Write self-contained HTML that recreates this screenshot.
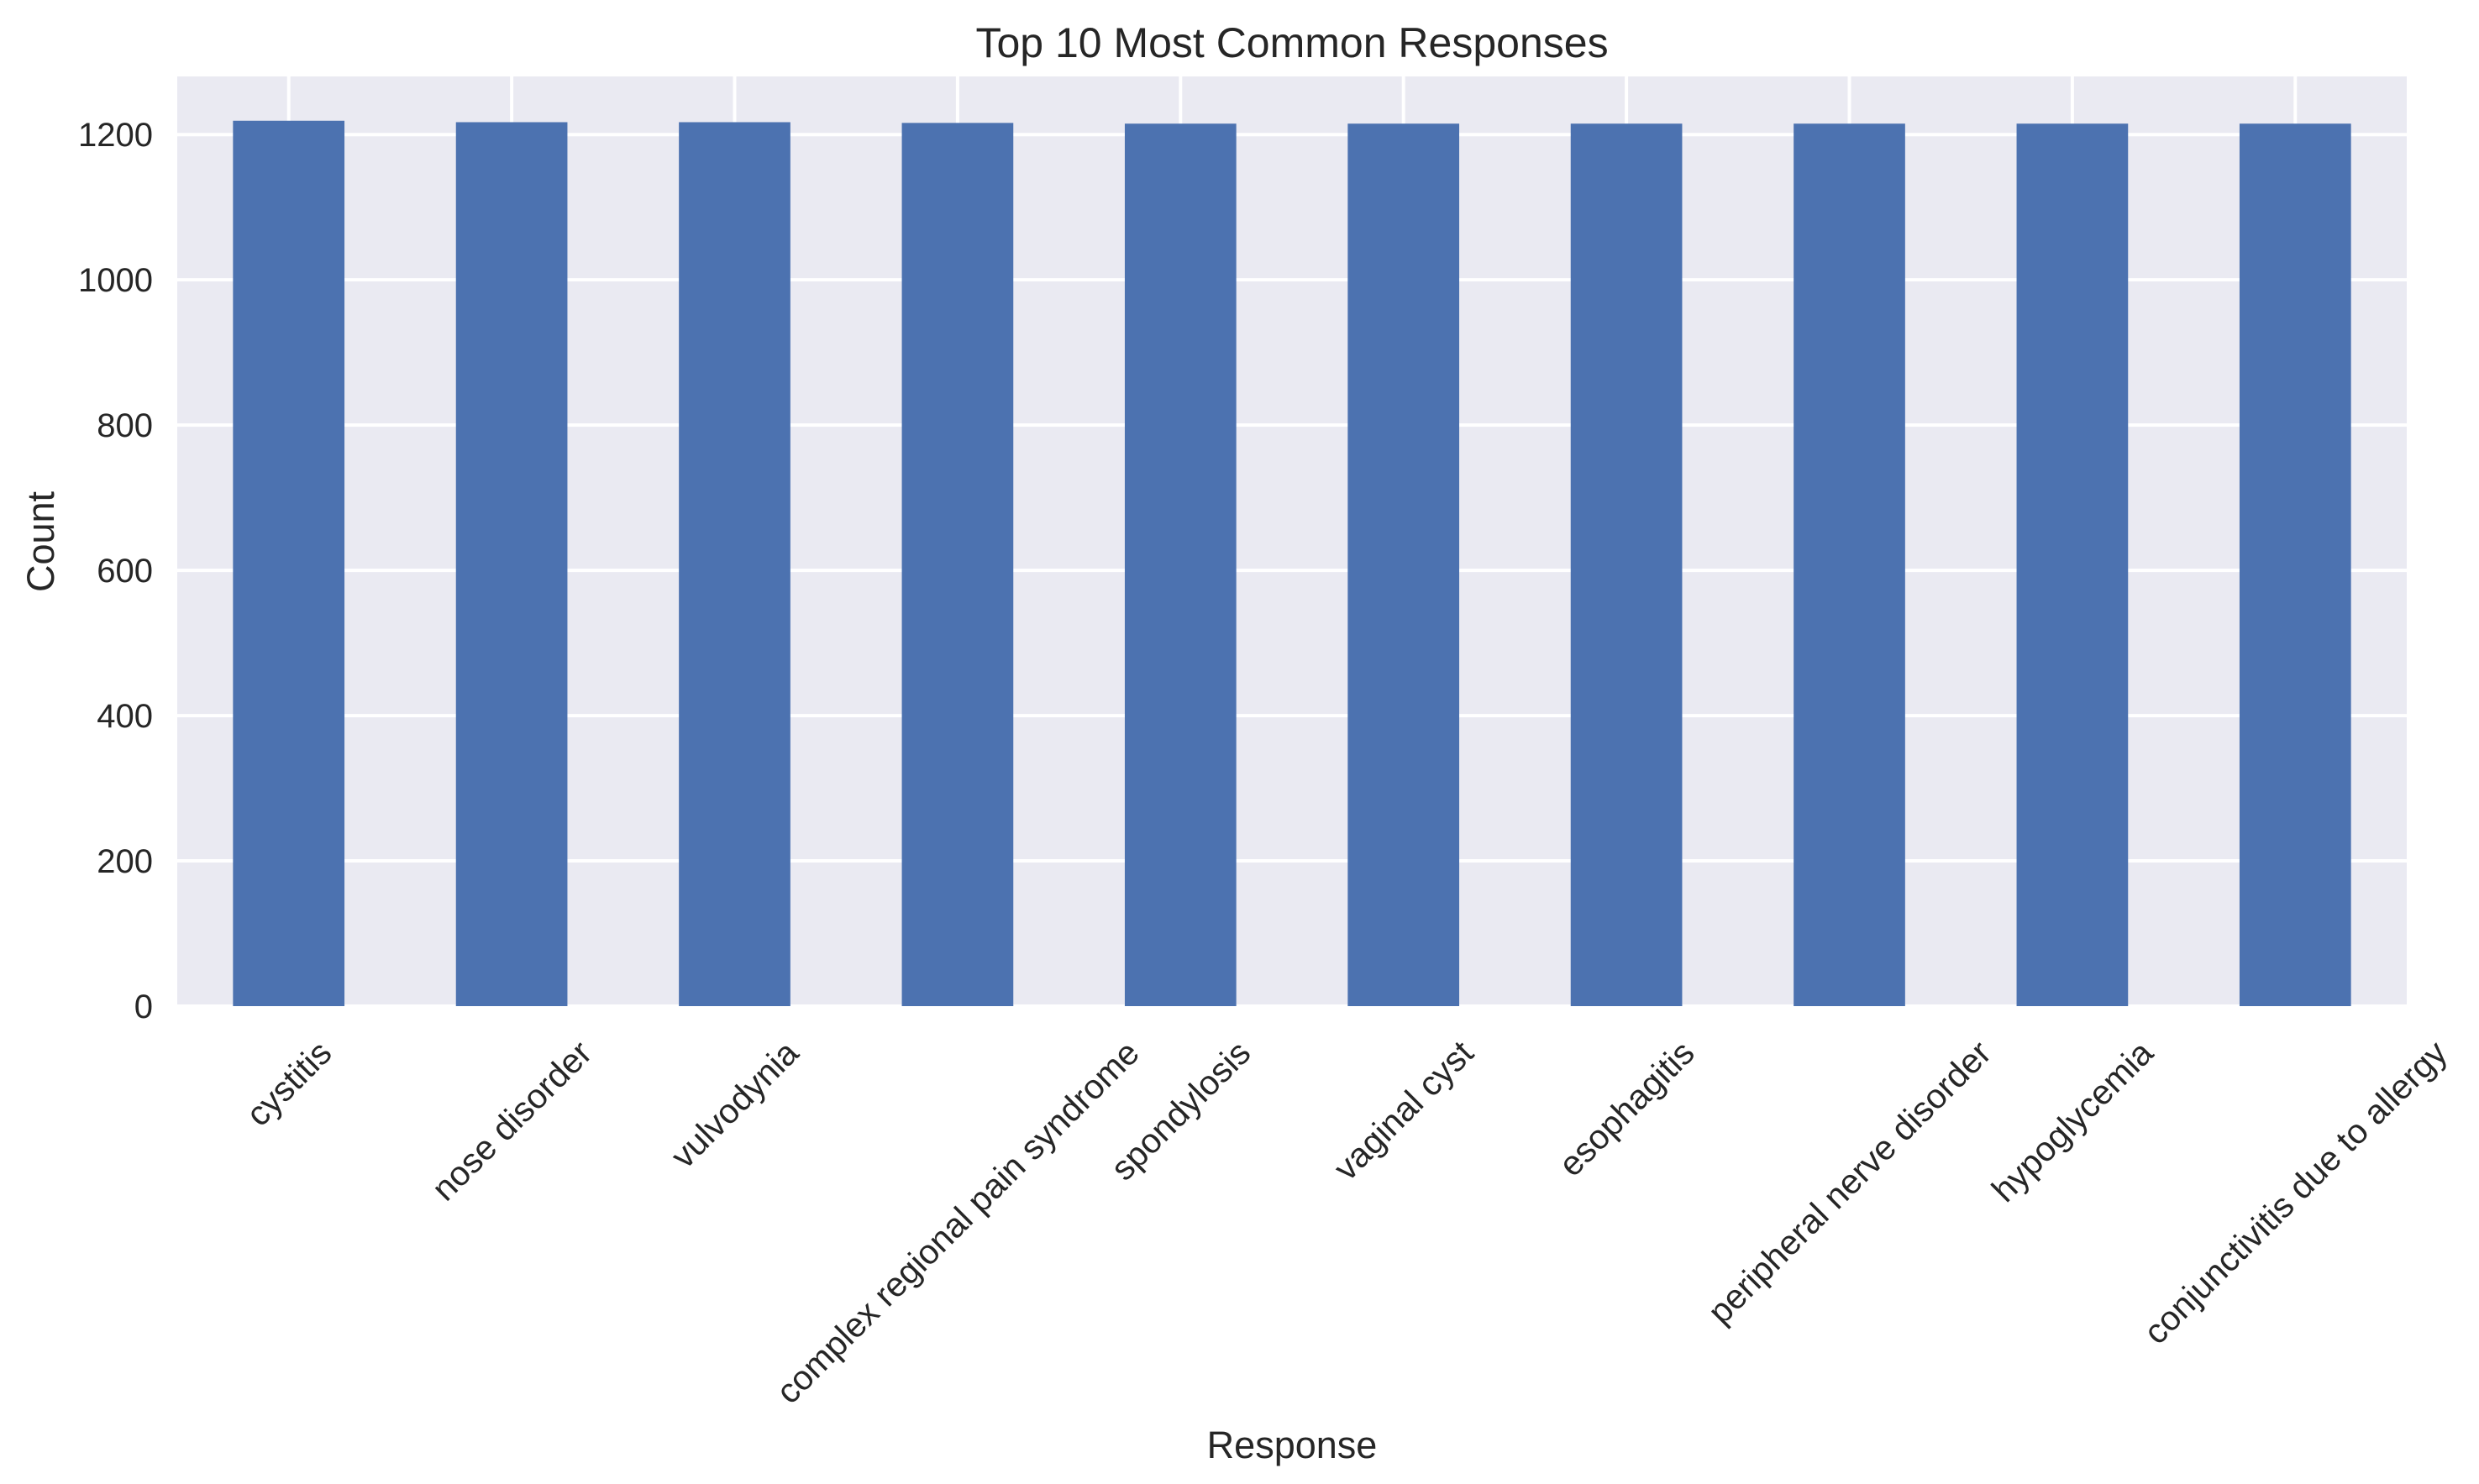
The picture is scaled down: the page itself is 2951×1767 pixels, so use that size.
<!DOCTYPE html>
<html><head><meta charset="utf-8"><style>
html,body{margin:0;padding:0;background:#fff}
svg{display:block;font-family:"Liberation Sans",Arial,sans-serif}
</style></head><body>
<svg id="chart" width="2951" height="1767" viewBox="0 0 2951 1767">
<rect x="211" y="91" width="2654" height="1107" fill="#eaeaf2"/>
<g id="grid"></g>
<g id="bars"></g>
<g id="yticks"></g>
<g id="xticks"></g>
<text x="1538" y="68" text-anchor="middle" font-size="50" fill="#262626">Top 10 Most Common Responses</text>
<text x="1538" y="1736" text-anchor="middle" font-size="45" fill="#262626">Response</text>
<text transform="translate(64,645) rotate(-90)" text-anchor="middle" font-size="45" fill="#262626">Count</text>
</svg>
<script>
const categories = ["cystitis","nose disorder","vulvodynia","complex regional pain syndrome","spondylosis","vaginal cyst","esophagitis","peripheral nerve disorder","hypoglycemia","conjunctivitis due to allergy"];
const counts = [1219,1217,1217,1216,1215,1215,1215,1215,1215,1215];
const yTicks = [0,200,400,600,800,1000,1200];

const NS="http://www.w3.org/2000/svg";
const L=211,R=2865,T=91,B=1198,YMAX=1280;
const slot=(R-L)/categories.length;
function xc(i){return L+slot*(i+0.5);}
function y(v){return B-(v/YMAX)*(B-T);}
function mk(t,a,p){const e=document.createElementNS(NS,t);for(const k in a)e.setAttribute(k,a[k]);p.appendChild(e);return e;}
const grid=document.getElementById('grid'),bars=document.getElementById('bars'),yt=document.getElementById('yticks'),xt=document.getElementById('xticks');
yTicks.forEach(v=>{
  const l=mk('line',{x1:L,x2:R,y1:y(v),y2:y(v),stroke:'#fff','stroke-width':4},grid);
  
  
  const t=mk('text',{x:182,y:y(v)+14,'text-anchor':'end','font-size':40,fill:'#262626'},yt);
  t.textContent=v;
  
  
});
categories.forEach((c,i)=>{
  const l=mk('line',{x1:xc(i),x2:xc(i),y1:T,y2:B,stroke:'#fff','stroke-width':4},grid);
  
  
  const w=slot*0.5;
  const r=mk('rect',{x:xc(i)-w/2,y:y(counts[i]),width:w,height:B-y(counts[i]),fill:'#4c72b0'},bars);
  
  
  const t=mk('text',{'text-anchor':'middle','font-size':41,fill:'#262626'},xt);
  t.textContent=c;
  
  
  const len=t.getComputedTextLength();
  const h=41;
  const cy=1232+(len+h)/(2*Math.SQRT2);
  t.setAttribute('transform','translate('+xc(i)+','+cy+') rotate(-45) translate(0,14)');
});
</script>
</body></html>
